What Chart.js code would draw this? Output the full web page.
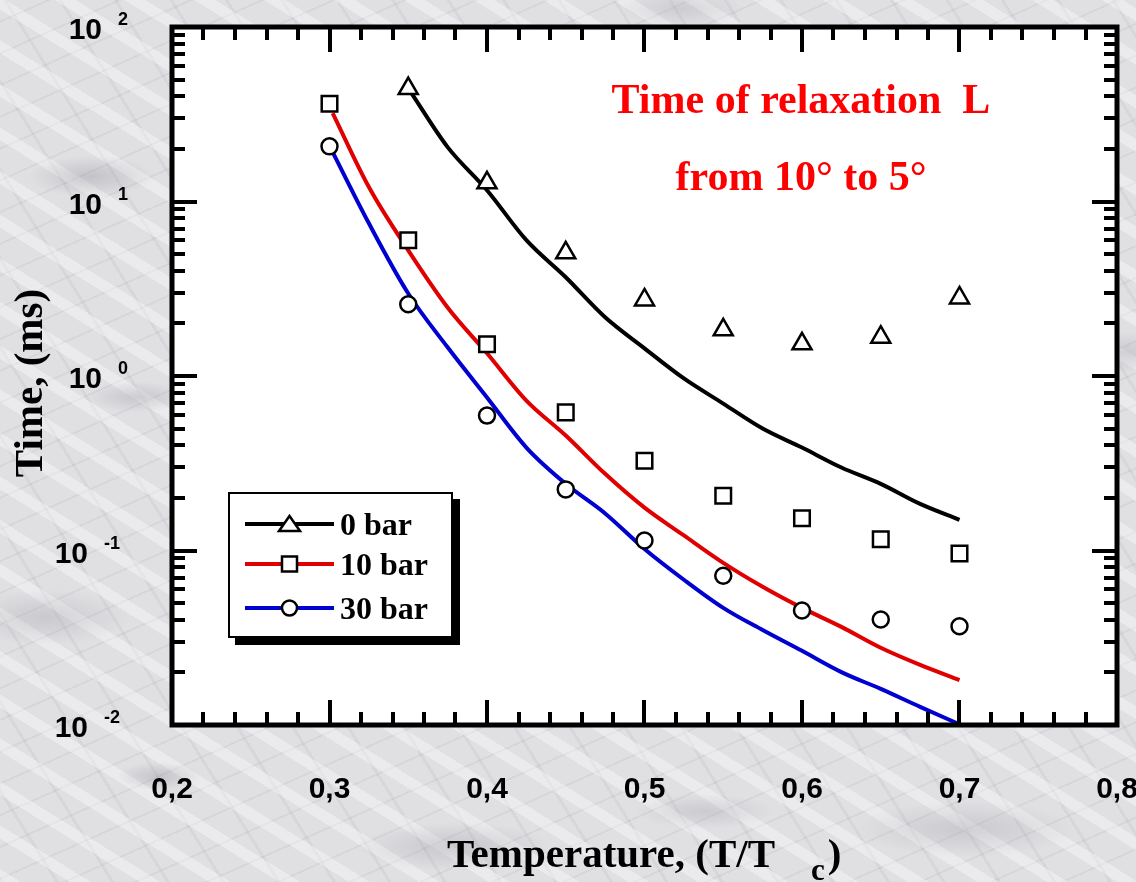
<!DOCTYPE html>
<html>
<head>
<meta charset="utf-8">
<script src="https://cdn.jsdelivr.net/npm/chart.js@4.4.0/dist/chart.umd.min.js"></script>
<style>
  html, body { margin: 0; padding: 0; }
  body {
    width: 1136px; height: 882px; overflow: hidden; position: relative;
    background-color: #e0e0e3;
    background-image:
      radial-gradient(ellipse 90px 30px at 8% 20%, rgba(140,140,150,.35), transparent 70%),
      radial-gradient(ellipse 70px 22px at 12% 45%, rgba(140,140,150,.30), transparent 70%),
      radial-gradient(ellipse 120px 40px at 4% 70%, rgba(150,150,158,.30), transparent 70%),
      radial-gradient(ellipse 60px 20px at 14% 88%, rgba(130,130,140,.30), transparent 70%),
      radial-gradient(ellipse 140px 35px at 40% 96%, rgba(140,140,150,.30), transparent 70%),
      radial-gradient(ellipse 100px 25px at 62% 92%, rgba(140,140,150,.25), transparent 70%),
      radial-gradient(ellipse 160px 40px at 85% 94%, rgba(150,150,158,.30), transparent 70%),
      radial-gradient(ellipse 80px 30px at 99% 40%, rgba(150,150,158,.30), transparent 70%),
      radial-gradient(ellipse 90px 26px at 60% 1%, rgba(150,150,158,.25), transparent 70%),
      repeating-linear-gradient(32deg, rgba(255,255,255,.35) 0 11px, transparent 11px 37px),
      repeating-linear-gradient(-24deg, rgba(120,120,130,.09) 0 2px, transparent 2px 29px),
      repeating-linear-gradient(58deg, rgba(110,110,120,.08) 0 3px, transparent 3px 47px);
  }
  canvas { position: absolute; left: 0; top: 0; }
  .serif { font-family: "Liberation Serif", "Times New Roman", serif; font-weight: bold; position: absolute; white-space: pre; }
  #note1, #note2 { left: 561px; width: 480px; text-align: center; color: #ff0000; font-size: 42px; line-height: 42px; }
  #note1 { top: 78px; }
  #note2 { top: 155px; }
  #xTitle { left: 447px; top: 833px; font-size: 41px; line-height: 40px; color: #000; }
  #xTitle .sub { font-size: 31px; position: relative; top: 13px; margin-left: 36px; margin-right: 3px; }
  #yTitle { left: 28px; top: 383px; width: 300px; margin-left: -150px; margin-top: -20px; text-align: center;
            font-size: 41px; line-height: 40px; color: #000; transform: rotate(-90deg); }
  #legend { position: absolute; left: 228px; top: 492px; width: 221px; height: 142px; background: #fff;
            border: 2px solid #000; box-shadow: 7px 7px 0 #000; }
  #legend .row { position: absolute; left: 13px; height: 30px; }
  #legend svg { position: absolute; left: 0; top: 0; }
  #legend .lab { position: absolute; left: 97px; top: 0; font-size: 32px; line-height: 30px; color: #000; }
</style>
</head>
<body>
<canvas id="chart" width="1136" height="882"></canvas>

<div id="note1" class="serif">Time of relaxation  L</div>
<div id="note2" class="serif">from 10° to 5°</div>
<div id="xTitle" class="serif">Temperature, (T/T<span class="sub">c</span>)</div>
<div id="yTitle" class="serif">Time, (ms)</div>

<div id="legend">
  <div class="row" style="top:15px">
    <svg width="92" height="30"><line x1="2" y1="15" x2="91" y2="15" stroke="#000" stroke-width="4"/>
      <polygon points="46.5,7 57,22 36,22" fill="#fff" stroke="#000" stroke-width="2.5"/></svg>
    <span class="lab serif">0 bar</span>
  </div>
  <div class="row" style="top:55px">
    <svg width="92" height="30"><line x1="2" y1="15" x2="91" y2="15" stroke="#e00000" stroke-width="4"/>
      <rect x="39" y="7.5" width="15" height="15" fill="#fff" stroke="#000" stroke-width="2.5"/></svg>
    <span class="lab serif">10 bar</span>
  </div>
  <div class="row" style="top:99px">
    <svg width="92" height="30"><line x1="2" y1="15" x2="91" y2="15" stroke="#0000d0" stroke-width="4"/>
      <circle cx="46.5" cy="15" r="7.5" fill="#fff" stroke="#000" stroke-width="2.5"/></svg>
    <span class="lab serif">30 bar</span>
  </div>
</div>

<script>
// ── Measured points (T/Tc → time, ms) ──────────────────────────────────────
const T_MEAS_0   = [0.35, 0.40, 0.45, 0.50, 0.55, 0.60, 0.65, 0.70];
const MEAS_0BAR  = [44.4, 12.8, 5.08, 2.73, 1.84, 1.53, 1.67, 2.80];

const T_MEAS     = [0.30, 0.35, 0.40, 0.45, 0.50, 0.55, 0.60, 0.65, 0.70];
const MEAS_10BAR = [36.3, 6.0, 1.52, 0.619, 0.327, 0.206, 0.153, 0.116, 0.096];
const MEAS_30BAR = [20.7, 2.58, 0.593, 0.224, 0.114, 0.0716, 0.0453, 0.0402, 0.0368];

// ── Calculated curves ──────────────────────────────────────────────────────
const T_FIT_0   = [0.352, 0.375, 0.40, 0.425, 0.45, 0.475, 0.50, 0.525, 0.55, 0.575, 0.60, 0.625, 0.65, 0.675, 0.70];
const FIT_0BAR  = [41.8, 20.5, 11.6, 6.0, 3.68, 2.17, 1.44, 0.968, 0.695, 0.50, 0.389, 0.299, 0.241, 0.185, 0.150];

const T_FIT     = [0.302, 0.325, 0.35, 0.375, 0.40, 0.425, 0.45, 0.475, 0.50, 0.525, 0.55, 0.575, 0.60, 0.625, 0.65, 0.675, 0.70];
const FIT_10BAR = [32.1, 12.1, 5.25, 2.47, 1.35, 0.723, 0.456, 0.275, 0.176, 0.122, 0.085, 0.062, 0.0469, 0.0365, 0.0277, 0.0221, 0.0181];
const FIT_30BAR = [19.2, 7.5, 2.97, 1.46, 0.753, 0.389, 0.241, 0.163, 0.102, 0.068, 0.0469, 0.035, 0.0266, 0.0201, 0.0161, 0.0127, 0.0101];

// ── Axes ───────────────────────────────────────────────────────────────────
const X_TICKS       = [0.2, 0.3, 0.4, 0.5, 0.6, 0.7, 0.8];
const X_TICK_LABELS = ['0,2', '0,3', '0,4', '0,5', '0,6', '0,7', '0,8'];
const Y_DECADES     = [0.01, 0.1, 1, 10, 100];
const Y_EXPONENTS   = ['-2', '-1', '0', '1', '2'];

const BLACK = '#000000';
const RED   = '#e00000';
const BLUE  = '#0000d0';

const pts = (xs, ys) => xs.map((x, i) => ({ x, y: ys[i] }));

function curve(label, xs, ys, color) {
  return {
    label, data: pts(xs, ys), showLine: true, borderColor: color, borderWidth: 4,
    pointRadius: 0, cubicInterpolationMode: 'monotone', fill: false, order: 2,
  };
}
function marks(label, xs, ys, style, radius) {
  return {
    label, data: pts(xs, ys), showLine: false, pointStyle: style, pointRadius: radius,
    borderColor: BLACK, backgroundColor: '#ffffff', pointBorderWidth: 2.5, order: 1,
  };
}

// White plot area, boxed frame, inward ticks on all four sides, tick labels
const frameTicks = {
  id: 'frameTicks',
  beforeDraw(chart) {
    const { ctx, chartArea: a } = chart;
    ctx.save();
    ctx.fillStyle = '#ffffff';
    ctx.fillRect(a.left, a.top, a.right - a.left, a.bottom - a.top);
    ctx.restore();
  },
  afterDraw(chart) {
    const { ctx, chartArea: a, scales: { x, y } } = chart;
    const MAJOR = 25, MINOR = 13;
    ctx.save();
    ctx.strokeStyle = BLACK;
    ctx.lineWidth = 4;
    ctx.beginPath();
    // x ticks every 0.02, major at each tenth
    for (let i = 0; i <= 30; i++) {
      const v = 0.2 + i * 0.02;
      const px = Math.round(x.getPixelForValue(v));
      const len = i % 5 === 0 ? MAJOR : MINOR;
      ctx.moveTo(px, a.bottom); ctx.lineTo(px, a.bottom - len);
      ctx.moveTo(px, a.top);    ctx.lineTo(px, a.top + len);
    }
    // y ticks: decades + 2..9 minors
    Y_DECADES.forEach((d, di) => {
      for (let k = 1; k <= 9; k++) {
        if (k > 1 && di === Y_DECADES.length - 1) break;
        const py = Math.round(y.getPixelForValue(d * k));
        const len = k === 1 ? MAJOR : MINOR;
        ctx.moveTo(a.left, py);  ctx.lineTo(a.left + len, py);
        ctx.moveTo(a.right, py); ctx.lineTo(a.right - len, py);
      }
    });
    ctx.stroke();

    ctx.lineWidth = 5;
    ctx.strokeRect(a.left, a.top, a.right - a.left, a.bottom - a.top);

    // tick labels
    ctx.fillStyle = BLACK;
    ctx.font = 'bold 30px "Liberation Sans", Arial, sans-serif';
    ctx.textAlign = 'center';
    ctx.textBaseline = 'alphabetic';
    X_TICKS.forEach((v, i) => ctx.fillText(X_TICK_LABELS[i], x.getPixelForValue(v), a.bottom + 73));

    Y_DECADES.forEach((d, i) => {
      const py = y.getPixelForValue(d);
      const exp = Y_EXPONENTS[i];
      const tenRight = exp.startsWith('-') ? 88 : 102;
      ctx.font = 'bold 30px "Liberation Sans", Arial, sans-serif';
      ctx.textAlign = 'right';
      ctx.fillText('10', tenRight, py + 12);
      ctx.font = 'bold 18px "Liberation Sans", Arial, sans-serif';
      ctx.textAlign = 'left';
      ctx.fillText(exp, tenRight + 16, py - 2);
    });
    ctx.restore();
  },
};

new Chart(document.getElementById('chart'), {
  type: 'scatter',
  data: {
    datasets: [
      curve('0 bar fit', T_FIT_0, FIT_0BAR, BLACK),
      curve('10 bar fit', T_FIT, FIT_10BAR, RED),
      curve('30 bar fit', T_FIT, FIT_30BAR, BLUE),
      marks('0 bar', T_MEAS_0, MEAS_0BAR, 'triangle', 11),
      marks('10 bar', T_MEAS, MEAS_10BAR, 'rect', 11),
      marks('30 bar', T_MEAS, MEAS_30BAR, 'circle', 8),
    ],
  },
  options: {
    responsive: false,
    animation: false,
    devicePixelRatio: 1,
    layout: { padding: { left: 172, right: 19, top: 27, bottom: 157 } },
    plugins: { legend: { display: false }, tooltip: { enabled: false } },
    scales: {
      x: { type: 'linear', min: 0.2, max: 0.8, display: false },
      y: { type: 'logarithmic', min: 0.01, max: 100, display: false },
    },
  },
  plugins: [frameTicks],
});
</script>
</body>
</html>
